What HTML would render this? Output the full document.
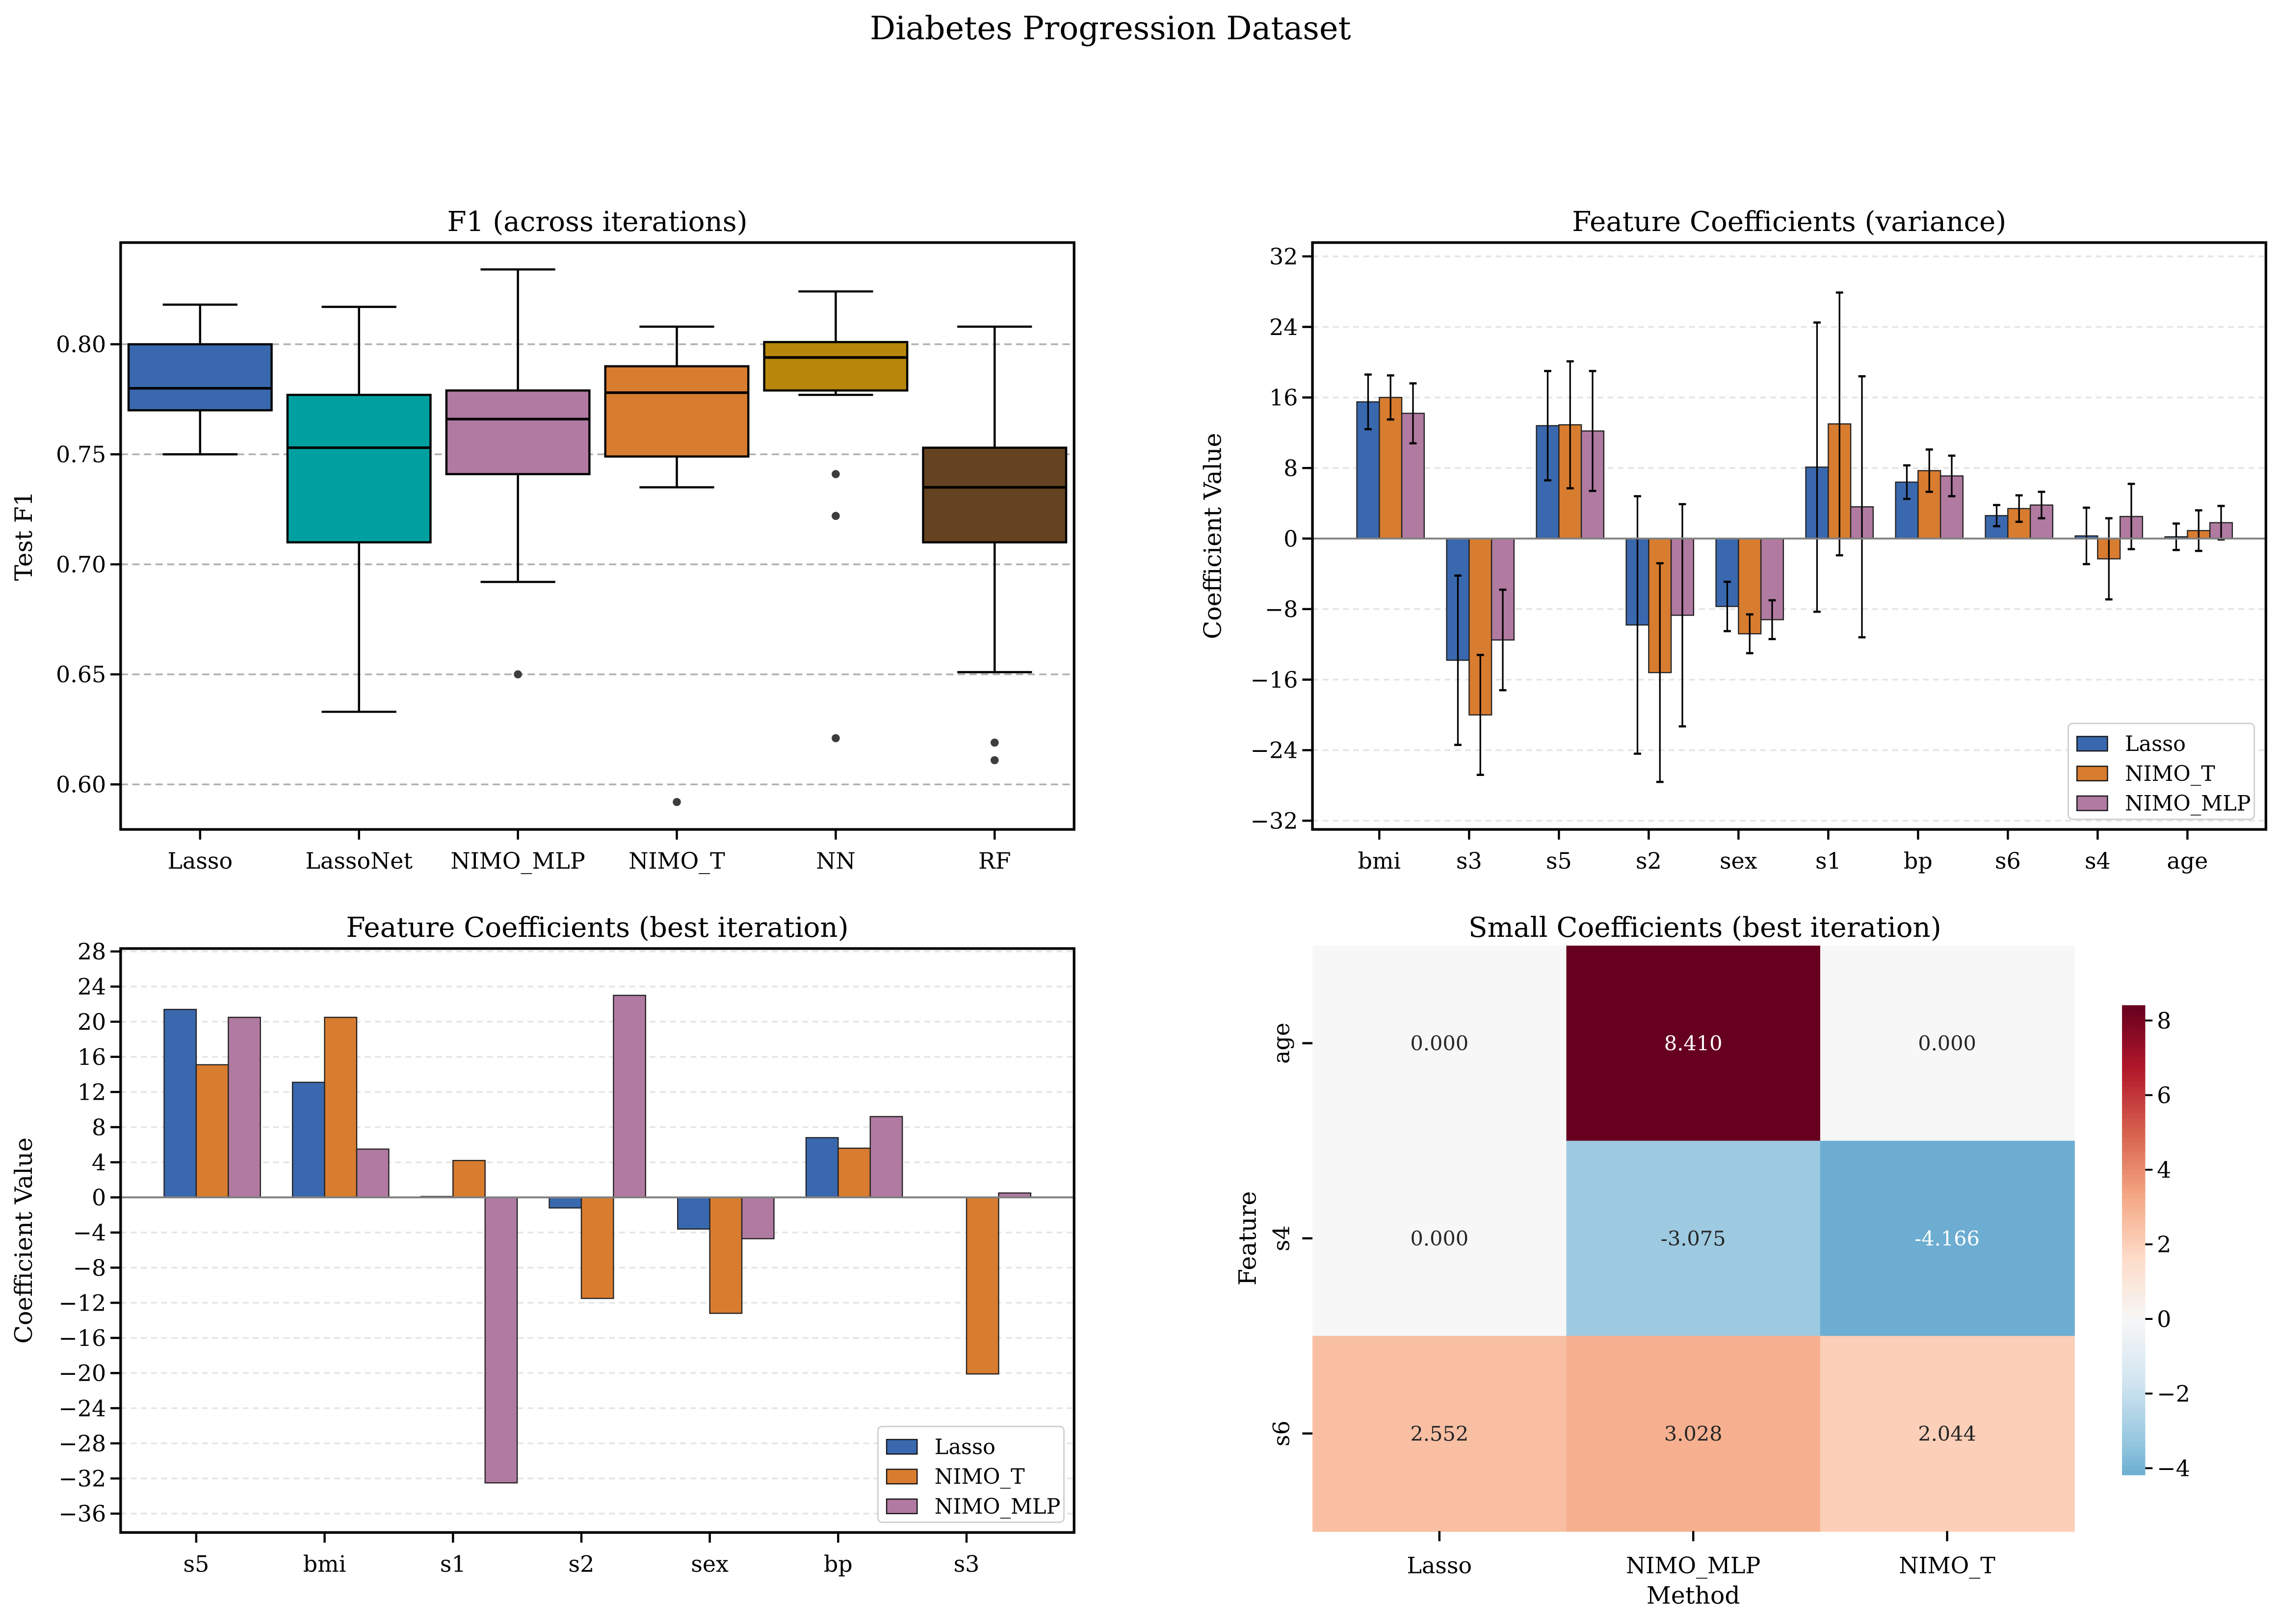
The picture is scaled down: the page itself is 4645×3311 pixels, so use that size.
<!DOCTYPE html>
<html><head><meta charset="utf-8"><style>
html,body{margin:0;padding:0;background:#fff;}
svg{display:block;font-family:"DejaVu Serif","Liberation Serif",serif;}
</style></head><body>
<svg id="fig" width="4645" height="3311" viewBox="0 0 1568 1118" preserveAspectRatio="none" xmlns="http://www.w3.org/2000/svg">
<rect x="0" y="0" width="1568" height="1118" fill="#fff"/>
<text x="764" y="27" font-size="22" text-anchor="middle">Diabetes Progression Dataset</text>
</svg>
<script>
// ---------- DATA ----------
const boxMethods = ["Lasso","LassoNet","NIMO_MLP","NIMO_T","NN","RF"];
const boxColors = ["#3a68ae","#00a0a0","#b07aa1","#d87c30","#b8860b","#654321"];
const boxWhiskLo = [0.750,0.633,0.692,0.735,0.777,0.651];
const boxQ1 = [0.770,0.710,0.741,0.749,0.779,0.710];
const boxMed = [0.780,0.753,0.766,0.778,0.794,0.735];
const boxQ3 = [0.800,0.777,0.779,0.790,0.801,0.753];
const boxWhiskHi = [0.818,0.817,0.834,0.808,0.824,0.808];
const boxOutliers = [[],[],[0.650],[0.592],[0.741,0.722,0.621],[0.619,0.611]];
const f1Ticks = [0.60,0.65,0.70,0.75,0.80];

const seriesNames = ["Lasso","NIMO_T","NIMO_MLP"];
const seriesColors = ["#3a68ae","#d87c30","#b07aa1"];

const varFeatures = ["bmi","s3","s5","s2","sex","s1","bp","s6","s4","age"];
const varLasso = [15.5,-13.8,12.8,-9.8,-7.7,8.1,6.4,2.6,0.3,0.2];
const varNimoT = [16.0,-20.0,12.9,-15.2,-10.8,13.0,7.7,3.4,-2.3,0.9];
const varNimoMlp = [14.2,-11.5,12.2,-8.7,-9.2,3.6,7.1,3.8,2.5,1.8];
const varErrLasso = [3.1,9.6,6.2,14.6,2.8,16.4,1.9,1.2,3.2,1.5];
const varErrNimoT = [2.5,6.8,7.2,12.4,2.2,14.9,2.4,1.5,4.6,2.3];
const varErrNimoMlp = [3.4,5.7,6.8,12.6,2.2,14.8,2.3,1.5,3.7,1.9];
const varTicks = [-32,-24,-16,-8,0,8,16,24,32];

const bestFeatures = ["s5","bmi","s1","s2","sex","bp","s3"];
const bestLasso = [21.4,13.1,0.1,-1.2,-3.6,6.8,0.0];
const bestNimoT = [15.1,20.5,4.2,-11.5,-13.2,5.6,-20.1];
const bestNimoMlp = [20.5,5.5,-32.5,23.0,-4.7,9.2,0.5];
const bestTicks = [-36,-32,-28,-24,-20,-16,-12,-8,-4,0,4,8,12,16,20,24,28];

const heatRows = ["age","s4","s6"];
const heatCols = ["Lasso","NIMO_MLP","NIMO_T"];
const heatLasso = [0.000,0.000,2.552];
const heatNimoMlp = [8.410,-3.075,3.028];
const heatNimoT = [0.000,-4.166,2.044];
const cbarTicks = [-4,-2,0,2,4,6,8];

// ---------- HELPERS ----------
const NS="http://www.w3.org/2000/svg";
const svg=document.getElementById('fig');
const TICK=15.5, TITLE=19, LAB=16.5, TL=7;
function mk(tag,attrs,parent,text){const e=document.createElementNS(NS,tag);for(const k in attrs)e.setAttribute(k,attrs[k]);if(text!==undefined)e.textContent=text;(parent||svg).appendChild(e);return e;}
function lin(d0,d1,r0,r1){return v=>r0+(v-d0)*(r1-r0)/(d1-d0);}
function fmtMinus(v){return v<0?"\u2212"+Math.abs(v):String(v);}

function axesFrame(g,x0,y0,x1,y1){
  const r=mk('rect',{x:x0,y:y0,width:x1-x0,height:y1-y0,fill:'none',stroke:'#000','stroke-width':1.8},g);
  
  
}

// ---------- PANEL 1: BOXPLOT ----------
(function(){
  const g=mk('g',{});
  
  
  const X0=83,X1=739,Y0=167,Y1=571;
  const y=lin(0.60,0.80,540,237);
  const step=(X1-X0)/boxMethods.length;
  const xc=i=>X0+(i+0.5)*step;
  const t=mk('text',{x:(X0+X1)/2,y:159,'font-size':TITLE,'text-anchor':'middle'},g,"F1 (across iterations)");
  
  
  f1Ticks.forEach(v=>{
    const gl=mk('line',{x1:X0,x2:X1,y1:y(v),y2:y(v),stroke:'#b0b0b0','stroke-width':1.2,'stroke-dasharray':'5,3'},g);
    
    
    mk('line',{x1:X0-TL,x2:X0,y1:y(v),y2:y(v),stroke:'#000','stroke-width':1.5},g);
    const tl=mk('text',{x:X0-10,y:y(v)+5.5,'font-size':TICK,'text-anchor':'end'},g,v.toFixed(2));
    
    
  });
  boxMethods.forEach((m,i)=>{
    const cx=xc(i),bw=step*0.9,cw=step*0.47;
    mk('line',{x1:cx,x2:cx,y1:y(boxWhiskHi[i]),y2:y(boxQ3[i]),stroke:'#000','stroke-width':1.5},g);
    mk('line',{x1:cx,x2:cx,y1:y(boxQ1[i]),y2:y(boxWhiskLo[i]),stroke:'#000','stroke-width':1.5},g);
    mk('line',{x1:cx-cw/2,x2:cx+cw/2,y1:y(boxWhiskHi[i]),y2:y(boxWhiskHi[i]),stroke:'#000','stroke-width':1.5},g);
    mk('line',{x1:cx-cw/2,x2:cx+cw/2,y1:y(boxWhiskLo[i]),y2:y(boxWhiskLo[i]),stroke:'#000','stroke-width':1.5},g);
    const b=mk('rect',{x:cx-bw/2,y:y(boxQ3[i]),width:bw,height:y(boxQ1[i])-y(boxQ3[i]),fill:boxColors[i],stroke:'#000','stroke-width':1.5},g);
    
    
    mk('line',{x1:cx-bw/2,x2:cx+bw/2,y1:y(boxMed[i]),y2:y(boxMed[i]),stroke:'#000','stroke-width':1.8},g);
    boxOutliers[i].forEach(o=>{
      const c=mk('circle',{cx:cx,cy:y(o),r:2.8,fill:'#3d3d3d'},g);
      
      
    });
    mk('line',{x1:cx,x2:cx,y1:Y1,y2:Y1+TL,stroke:'#000','stroke-width':1.5},g);
    const xl=mk('text',{x:cx,y:Y1+27,'font-size':TICK,'text-anchor':'middle'},g,m);
    
    
  });
  const yt=mk('text',{x:22,y:(Y0+Y1)/2,'font-size':LAB,'text-anchor':'middle',transform:`rotate(-90 22 ${(Y0+Y1)/2})`},g,"Test F1");
  
  
  axesFrame(g,X0,Y0,X1,Y1);
})();

// ---------- GROUPED BAR HELPER ----------
function barPanel(opts){
  const g=mk('g',{});
  
  
  const {X0,X1,Y0,Y1,y,xc,step}=opts;
  const t=mk('text',{x:(X0+X1)/2,y:Y0-8,'font-size':TITLE,'text-anchor':'middle'},g,opts.title);
  
  
  opts.ticks.forEach(v=>{
    if(v!==0){const gl=mk('line',{x1:X0,x2:X1,y1:y(v),y2:y(v),stroke:'#e5e5e5','stroke-width':1.2,'stroke-dasharray':'4,3'},g);
    
    }
    mk('line',{x1:X0-TL,x2:X0,y1:y(v),y2:y(v),stroke:'#000','stroke-width':1.5},g);
    const tl=mk('text',{x:X0-10,y:y(v)+5.5,'font-size':TICK,'text-anchor':'end'},g,fmtMinus(v));
    
    
  });
  const bw=step*0.25;
  opts.series.forEach((vals,s)=>{
    vals.forEach((v,i)=>{
      const cx=xc(i)+(s-0.5)*bw;
      const top=Math.min(y(v),y(0)),h=Math.abs(y(v)-y(0));
      const r=mk('rect',{x:cx-bw/2,y:top,width:bw,height:h,fill:seriesColors[s],stroke:'#222','stroke-width':0.8},g);
      
      
      if(opts.errs){
        const e=opts.errs[s][i];
        const el=mk('line',{x1:cx,x2:cx,y1:y(v+e),y2:y(v-e),stroke:'#000','stroke-width':1.1},g);
        
        
        mk('line',{x1:cx-2.5,x2:cx+2.5,y1:y(v+e),y2:y(v+e),stroke:'#000','stroke-width':1.5},g);
        mk('line',{x1:cx-2.5,x2:cx+2.5,y1:y(v-e),y2:y(v-e),stroke:'#000','stroke-width':1.5},g);
      }
    });
  });
  mk('line',{x1:X0,x2:X1,y1:y(0),y2:y(0),stroke:'#808080','stroke-width':1.3},g);
  opts.cats.forEach((c,i)=>{
    mk('line',{x1:xc(i),x2:xc(i),y1:Y1,y2:Y1+TL,stroke:'#000','stroke-width':1.5},g);
    const xl=mk('text',{x:xc(i),y:Y1+27,'font-size':TICK,'text-anchor':'middle'},g,c);
    
    
  });
  const yx=opts.ylabX,ym=(Y0+Y1)/2;
  const yt=mk('text',{x:yx,y:ym,'font-size':LAB,'text-anchor':'middle',transform:`rotate(-90 ${yx} ${ym})`},g,"Coefficient Value");
  
  
  // legend
  const L=opts.legend;
  const lg=mk('g',{},g);
  
  
  mk('rect',{x:L.x,y:L.y,width:L.w,height:66,rx:3,fill:'#fff','fill-opacity':0.9,stroke:'#d0d0d0','stroke-width':1},lg);
  seriesNames.forEach((n,s)=>{
    const ey=L.y+9+s*20.5;
    const sw=mk('rect',{x:L.x+6,y:ey,width:21,height:10,fill:seriesColors[s],stroke:'#111','stroke-width':0.8},lg);
    
    
    mk('text',{x:L.x+39,y:ey+10,'font-size':14.5},lg,n);
  });
  axesFrame(g,X0,Y0,X1,Y1);
}

// Panel 2: variance
(function(){
  const X0=903,X1=1559,Y0=167,Y1=571;
  const step=(1505-949)/9;
  barPanel({name:'variance-bar-panel',title:'Feature Coefficients (variance)',X0,X1,Y0,Y1,
    y:lin(-32,32,565,176.5),xc:i=>949+i*step,step,ticks:varTicks,cats:varFeatures,
    series:[varLasso,varNimoT,varNimoMlp],errs:[varErrLasso,varErrNimoT,varErrNimoMlp],
    ylabX:840,legend:{x:1423,y:498,w:128}});
})();

// Panel 3: best iteration
(function(){
  const X0=83,X1=739,Y0=653,Y1=1055;
  const step=(665-135)/6;
  barPanel({name:'best-iteration-bar-panel',title:'Feature Coefficients (best iteration)',X0,X1,Y0,Y1,
    y:lin(-36,28,1042,655),xc:i=>135+i*step,step,ticks:bestTicks,cats:bestFeatures,
    series:[bestLasso,bestNimoT,bestNimoMlp],errs:null,
    ylabX:22,legend:{x:604,y:982,w:128}});
})();

// ---------- PANEL 4: HEATMAP ----------
(function(){
  const g=mk('g',{});
  
  
  const X0=903,X1=1427,Y0=651,Y1=1054;
  const cw=(X1-X0)/3,ch=(Y1-Y0)/3;
  const stops=["#053061","#2166ac","#4393c3","#92c5de","#d1e5f0","#f7f7f7","#fddbc7","#f4a582","#d6604d","#b2182b","#67001f"];
  const hex=h=>[1,3,5].map(k=>parseInt(h.substr(k,2),16));
  const vmin=-4.166,vmax=8.41,R=Math.max(Math.abs(vmin),Math.abs(vmax));
  function color(v){let t=0.5+v/(2*R);t=Math.max(0,Math.min(1,t));const p=t*10,i=Math.min(9,Math.floor(p)),f=p-i;
    const a=hex(stops[i]),b=hex(stops[i+1]);return 'rgb('+a.map((c,k)=>Math.round(c+(b[k]-c)*f)).join(',')+')';}
  const t=mk('text',{x:(X0+X1)/2+8,y:Y0-6,'font-size':TITLE,'text-anchor':'middle'},g,"Small Coefficients (best iteration)");
  
  
  const cols=[heatLasso,heatNimoMlp,heatNimoT];
  cols.forEach((colVals,c)=>{
    colVals.forEach((v,r)=>{
      const x=X0+c*cw,yy=Y0+r*ch;
      const cell=mk('rect',{x:x,y:yy,width:cw+0.5,height:ch+0.5,fill:color(v)},g);
      
      
      const dark=Math.abs(v/R)>0.45;
      const lbl=mk('text',{x:x+cw/2,y:yy+ch/2+5,'font-size':14,'text-anchor':'middle',fill:dark?'#fff':'#262626'},g,v.toFixed(3));
      
      
    });
  });
  heatCols.forEach((c,i)=>{
    const cx=X0+(i+0.5)*cw;
    mk('line',{x1:cx,x2:cx,y1:Y1,y2:Y1+TL,stroke:'#000','stroke-width':1.5},g);
    const xl=mk('text',{x:cx,y:Y1+29,'font-size':TICK,'text-anchor':'middle'},g,c);
    
    
  });
  heatRows.forEach((r,i)=>{
    const cy=Y0+(i+0.5)*ch;
    mk('line',{x1:X0-TL,x2:X0,y1:cy,y2:cy,stroke:'#000','stroke-width':1.5},g);
    const lx=X0-16;
    const yl=mk('text',{x:lx,y:cy,'font-size':TICK,'text-anchor':'middle',transform:`rotate(-90 ${lx} ${cy})`},g,r);
    
    
  });
  const xt=mk('text',{x:(X0+X1)/2,y:1104,'font-size':LAB,'text-anchor':'middle'},g,"Method");
  
  
  const ym=(Y0+Y1)/2;
  const yt=mk('text',{x:864,y:ym,'font-size':LAB,'text-anchor':'middle',transform:`rotate(-90 864 ${ym})`},g,"Feature");
  
  
  // colorbar
  const CX=1460,CW=16,CT=692,CB=1015;
  const cy=lin(vmin,vmax,CB,CT);
  const cb=mk('g',{},g);
  
  
  const N=100;
  for(let k=0;k<N;k++){
    const v0=vmin+(vmax-vmin)*k/N,v1=vmin+(vmax-vmin)*(k+1)/N;
    mk('rect',{x:CX,y:cy(v1),width:CW,height:cy(v0)-cy(v1)+0.6,fill:color((v0+v1)/2)},cb);
  }
  cbarTicks.forEach(v=>{
    mk('line',{x1:CX+CW,x2:CX+CW+5,y1:cy(v),y2:cy(v),stroke:'#000','stroke-width':1.3},cb);
    const tl=mk('text',{x:CX+CW+8,y:cy(v)+5.5,'font-size':TICK},cb,fmtMinus(v));
    
    
  });
})();
</script>
</body></html>
